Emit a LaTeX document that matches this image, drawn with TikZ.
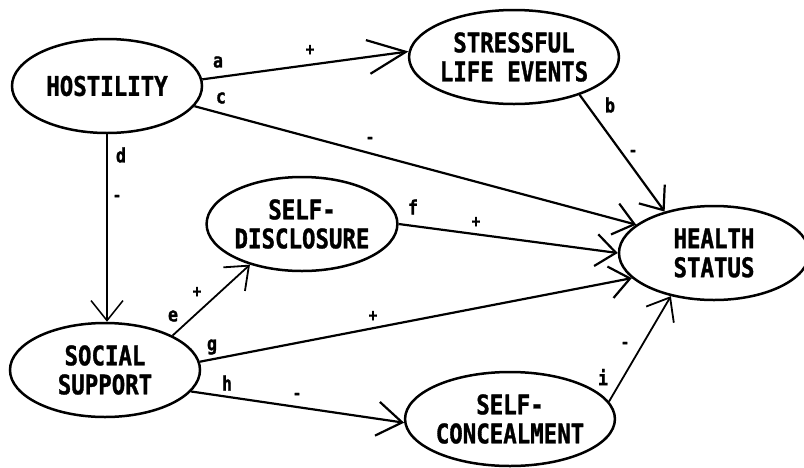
\documentclass[tikz,border=0pt]{standalone}
\usepackage{fontspec}
\newfontfamily\pathfont[FakeStretch=0.83,BoldFeatures={FakeBold=1.2}]{DejaVu Sans Mono}
\usetikzlibrary{shapes.geometric,arrows.meta}
\begin{document}
\begin{tikzpicture}[x=1pt,y=-1pt,
  construct/.style={ellipse,draw,line width=2.5pt,minimum width=190pt,minimum height=94pt,
    inner sep=0pt,align=center,font=\pathfont\bfseries\fontsize{27}{29}\selectfont},
  path/.style={line width=2.2pt,-{Straight Barb[length=20pt,width=32pt]}},
  tag/.style={font=\pathfont\bfseries\fontsize{20}{20}\selectfont,inner sep=0pt},
  sgn/.style={font=\pathfont\bfseries\fontsize{17}{17}\selectfont,inner sep=0pt}]
\useasboundingbox (0,0) rectangle (804,467);

% constructs
\node[construct] (host) at (107,86) {HOSTILITY};
\node[construct] (stress) at (514,57) {STRESSFUL\\LIFE EVENTS};
\node[construct] (disc) at (302,224) {SELF-\\DISCLOSURE};
\node[construct] (health) at (714,253) {HEALTH\\STATUS};
\node[construct] (support) at (105,370) {SOCIAL\\SUPPORT};
\node[construct] (conceal) at (510,419) {SELF-\\CONCEALMENT};

% paths
\draw[path,-{Straight Barb[length=38pt,width=34pt]}] (host.4) -- (stress.177);
\draw[path] (host.-13) -- (health.160);
\draw[path] (stress.-30) -- (health.140);
\draw[path,line width=1.5pt] (host.south) -- (host.south |- support.north);
\draw[path,line width=1.8pt] (support.27) -- (disc.-142);
\draw[path] (disc.0) -- (health.180);
\draw[path] (support.5) -- (health.197);
\draw[path,-{Straight Barb[length=25pt,width=34pt]}] (support.-14) -- (conceal.182);
\draw[path,line width=1.8pt] (conceal.10) -- (health.-135);

% path letters
\node[tag] (la) at (218,62) {a};
\node[tag] (lc) at (221,98) {c};
\node[tag] (lb) at (610,105) {b};
\node[tag] (ld) at (121,155) {d};
\node[tag] (le) at (173,316) {e};
\node[tag] (lf) at (413,207) {f};
\node[tag] (lg) at (212,347) {g};
\node[tag] (lh) at (227,383) {h};
\node[tag] (li) at (603,377) {i};

% signs
\node[sgn] (sa) at (310,50) {+};
\node[sgn] (sc) at (370,140) {-};
\node[sgn] (sb) at (633,153) {-};
\node[sgn] (sd) at (117,198) {-};
\node[sgn] (se) at (197,292) {+};
\node[sgn] (sf) at (476,222) {+};
\node[sgn] (sg) at (373,316) {+};
\node[sgn] (sh) at (297,396) {-};
\node[sgn] (si) at (625,345) {-};
\end{tikzpicture}
\end{document}
